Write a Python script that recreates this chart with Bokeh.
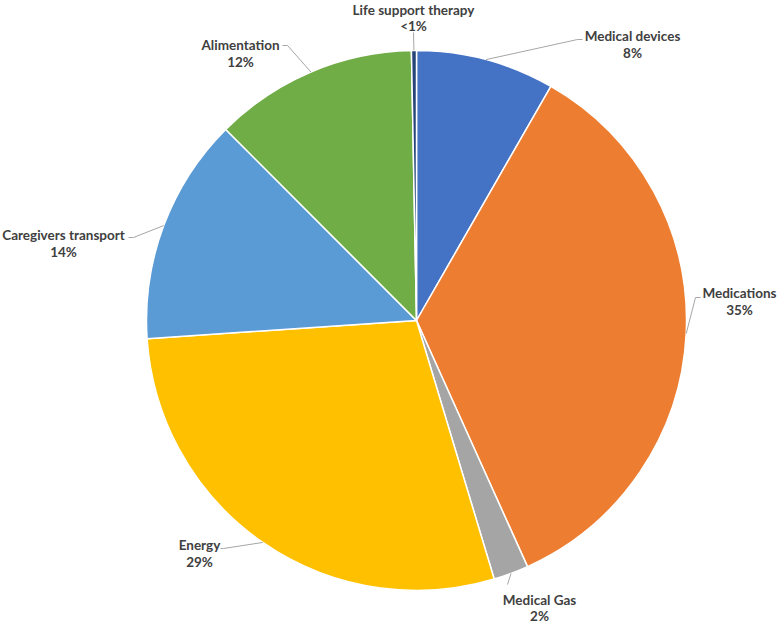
import numpy as np
from bokeh.plotting import figure
from bokeh.models import Range1d, ColumnDataSource
from bokeh.embed import file_html
from bokeh.resources import INLINE
from bokeh.core.properties import value

# ---- data ----
categories = ["Medical devices", "Medications", "Medical Gas", "Energy",
              "Caregivers transport", "Alimentation", "Life support therapy"]
shares = [8.3, 35.0, 2.1, 28.6, 13.6, 12.2, 0.3]
pct_labels = ["8%", "35%", "2%", "29%", "14%", "12%", "<1%"]
colors = ["#4472C4", "#ED7D31", "#A5A5A5", "#FFC000", "#5B9BD5", "#70AD47", "#264478"]

# ---- layout (reference pixel coords, y downwards) ----
W, H = 778, 624
CX, CY, R = 416, 320, 270
# label centre x, line-1 y, line-2 y, elbow point, end point of leader
label_layout = [
    (632, 35, 52, (577, 39), (582, 39)),
    (739, 292, 309, (695, 297), (700, 297)),
    (539, 599, 615, (507, 584), (507, 584)),
    (199, 544, 561, (223, 548), (220, 548)),
    (63, 234, 251, (133, 237), (128, 237)),
    (240, 44, 61, (287, 45), (282, 45)),
    (413, 9, 25, (413, 32), (413, 32)),
]

def fy(y):
    return H - y

vals = np.array(shares, dtype=float)
frac = vals / vals.sum()
cum_end = np.cumsum(frac)
cum_start = cum_end - frac
start_angle = np.pi / 2 - 2 * np.pi * cum_start
end_angle = np.pi / 2 - 2 * np.pi * cum_end
mid = np.pi / 2 - 2 * np.pi * (cum_start + cum_end) / 2

src = ColumnDataSource(dict(cat=categories, start=start_angle, end=end_angle, color=colors))

p = figure(width=W, height=H, x_range=Range1d(0, W), y_range=Range1d(0, H),
           output_backend="svg", toolbar_location=None, min_border=0,
           x_axis_location=None, y_axis_location=None)
p.grid.visible = False
p.outline_line_color = None
p.background_fill_color = "white"
p.border_fill_color = "white"

p.wedge(x=CX, y=fy(CY), radius=R, start_angle="start", end_angle="end", direction="clock",
        fill_color="color", line_color="white", line_width=1.5, source=src)

# leader lines
lx, ly = [], []
for i, (tx, y1, y2, elbow, end) in enumerate(label_layout):
    sx = CX + R * np.cos(mid[i])
    sy = fy(CY) + R * np.sin(mid[i])
    lx.append([sx, elbow[0], end[0]])
    ly.append([sy, fy(elbow[1]), fy(end[1])])
p.multi_line(xs=lx, ys=ly, line_color="#A6A6A6", line_width=1)

tsrc = ColumnDataSource(dict(
    x=[l[0] for l in label_layout],
    y1=[fy(l[1]) for l in label_layout],
    y2=[fy(l[2]) for l in label_layout],
    name=categories, pct=pct_labels))
common = dict(text_font=value("Lato"), text_font_style="bold", text_font_size="13.5px",
              text_color="#404040", text_align="center", text_baseline="middle", source=tsrc)
p.text(x="x", y="y1", text="name", **common)
p.text(x="x", y="y2", text="pct", **common)

open("out.html", "w").write(file_html(p, INLINE))
